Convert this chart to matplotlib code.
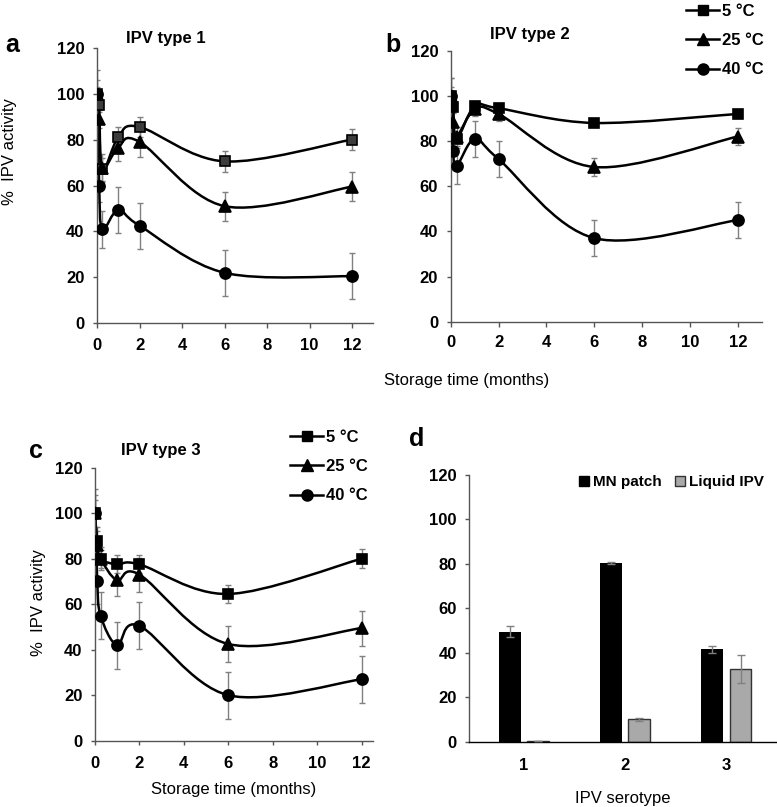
import numpy as np
import matplotlib
matplotlib.use('Agg')
import matplotlib.pyplot as plt
from matplotlib.path import Path
from matplotlib.patches import PathPatch, Patch
from matplotlib.lines import Line2D

plt.rcParams['font.family'] = ['Liberation Sans', 'DejaVu Sans']

# ---------------- data ----------------
months = [0, 0.1, 0.25, 1, 2, 6, 12]
temps = ['5 °C', '25 °C', '40 °C']

# IPV type 1
t1_5 = [100, 95, 67, 81, 85.5, 70.5, 80]
t1_5_err = [3, 3, 5, 4.5, 4.5, 4.5, 4.5]
t1_25 = [100, 89, 67.5, 76.5, 79, 51, 59.5]
t1_25_err = [6, 4, 6, 6, 6.5, 6.3, 6.3]
t1_40 = [100, 60, 41, 49.5, 42.5, 22, 20.5]
t1_40_err = [10.5, 7, 8, 10, 10, 10, 10]

# IPV type 2
t2_5 = [100, 95, 81, 95.5, 94.5, 88, 92]
t2_5_err = [4, 2, 2, 2, 1.5, 1, 1]
t2_25 = [100, 88.5, 82, 94, 92, 68.5, 82]
t2_25_err = [8, 4, 4, 3, 3, 4, 3.7]
t2_40 = [100, 75.5, 69, 81, 72, 37, 45]
t2_40_err = [8, 8, 8, 8, 8, 8, 8]

# IPV type 3
t3_5 = [100, 88, 80, 77.5, 77.5, 64.5, 80]
t3_5_err = [8, 6, 4, 4, 4, 4, 4.3]
t3_25 = [100, 86, 80, 70.5, 73, 42.5, 49.5]
t3_25_err = [10.5, 6, 5, 7, 7.5, 7.7, 7.7]
t3_40 = [100, 70, 55, 42, 50.5, 20, 27]
t3_40_err = [6, 10, 10.3, 10.3, 10.3, 10.3, 10.3]

# Panel d
serotypes = ['1', '2', '3']
mn_patch = [49.4, 80.4, 41.5]
mn_patch_err = [2.5, 0.5, 1.5]
liquid_ipv = [0.2, 10, 32.5]
liquid_ipv_err = [0, 0.7, 6.3]

# ---------------- helpers ----------------
def smooth_path(x, y):
    pts = np.column_stack([x, y]).astype(float)
    n = len(pts)
    verts = [pts[0]]
    codes = [Path.MOVETO]
    for i in range(n - 1):
        p0 = pts[i - 1] if i > 0 else pts[i]
        p1 = pts[i]
        p2 = pts[i + 1]
        p3 = pts[i + 2] if i + 2 < n else pts[i + 1]
        c1 = p1 + (p2 - p0) / 6.0
        c2 = p2 - (p3 - p1) / 6.0
        verts += [c1, c2, p2]
        codes += [Path.CURVE4] * 3
    return Path(verts, codes)

AX_COL = '#555555'
ERR_COL = '#808080'
TICK_FS = 12

def style_axis(ax, xlim, xpad, xtick_len):
    for s in ['top', 'right']:
        ax.spines[s].set_visible(False)
    for s in ['left', 'bottom']:
        ax.spines[s].set_color(AX_COL)
        ax.spines[s].set_linewidth(1.0)
    ax.set_ylim(0, 120)
    ax.set_yticks(range(0, 121, 20))
    ax.set_xlim(*xlim)
    ax.tick_params(axis='y', direction='out', length=3, width=1, color=AX_COL,
                   pad=6, labelsize=TICK_FS)
    ax.tick_params(axis='x', direction='out', length=xtick_len, width=1, color=AX_COL,
                   pad=xpad, labelsize=TICK_FS)
    for lab in ax.get_xticklabels() + ax.get_yticklabels():
        lab.set_fontweight('bold')

markers = ['s', '^', 'o']
msizes = [7, 8, 8]

def draw_lines(ax, series, errs, sq_face='black'):
    for k, (y, e) in enumerate(zip(series, errs)):
        ax.errorbar(months, y, yerr=e, fmt='none', ecolor=ERR_COL, elinewidth=1,
                    capsize=2.5, capthick=1, zorder=1)
    for k, y in enumerate(series):
        ax.add_patch(PathPatch(smooth_path(months, y), fill=False, edgecolor='black',
                               lw=1.8, zorder=2))
    for k, y in enumerate(series):
        face = sq_face if k == 0 else 'black'
        ax.plot(months, y, linestyle='none', marker=markers[k], markersize=msizes[k],
                markerfacecolor=face, markeredgecolor='black', markeredgewidth=1.2,
                zorder=3)

W, H = 777, 807
fig = plt.figure(figsize=(W / 100, H / 100), dpi=100)

def axes_px(left, right, top, bottom):
    return fig.add_axes([left / W, 1 - bottom / H, (right - left) / W, (bottom - top) / H])

# Panel a
ax_a = axes_px(97, 373.3, 47.7, 323.3)
draw_lines(ax_a, [t1_5, t1_25, t1_40], [t1_5_err, t1_25_err, t1_40_err], sq_face='#3c3c3c')
style_axis(ax_a, (0, 13), 7, 3.5)
ax_a.set_xticks(range(0, 13, 2))

# Panel b
ax_b = axes_px(450.7, 761.7, 50.7, 321.7)
draw_lines(ax_b, [t2_5, t2_25, t2_40], [t2_5_err, t2_25_err, t2_40_err])
style_axis(ax_b, (0, 13), 6, 3.5)
ax_b.set_xticks(range(0, 13, 2))

# Panel c
ax_c = axes_px(95, 372.7, 467.7, 740.7)
draw_lines(ax_c, [t3_5, t3_25, t3_40], [t3_5_err, t3_25_err, t3_40_err])
style_axis(ax_c, (0, 12.5), 8, 3)
ax_c.set_xticks(range(0, 13, 2))
ax_c.set_xlabel('Storage time (months)', fontsize=12, labelpad=8)

# Panel d
ax_d = axes_px(469.3, 777, 475, 741.7)
xpos = np.arange(1, len(serotypes) + 1)
bw = 0.215
ax_d.bar(xpos - 0.14, mn_patch, width=bw, color='black', zorder=2)
ax_d.bar(xpos + 0.14, liquid_ipv, width=bw, color='#a9a9a9', edgecolor='#333333',
         linewidth=1, zorder=2)
ax_d.errorbar(xpos - 0.14, mn_patch, yerr=mn_patch_err, fmt='none', ecolor=ERR_COL,
              elinewidth=1, capsize=3, capthick=1, zorder=3)
ax_d.errorbar(xpos + 0.14, liquid_ipv, yerr=liquid_ipv_err, fmt='none', ecolor=ERR_COL,
              elinewidth=1, capsize=3, capthick=1, zorder=3)
style_axis(ax_d, (0.46, 3.5), 12, 0)
ax_d.set_xticks(xpos)
ax_d.set_xticklabels(serotypes)
for lab in ax_d.get_xticklabels():
    lab.set_fontweight('bold')
ax_d.spines['bottom'].set_color('black')
ax_d.set_xlabel('IPV serotype', fontsize=12, labelpad=13)
fig.legend([Patch(facecolor='black', edgecolor='black'),
            Patch(facecolor='#a9a9a9', edgecolor='#333333')],
           ['MN patch', 'Liquid IPV'], loc='center right', ncol=2,
           bbox_to_anchor=(764 / W, 1 - 482 / H), bbox_transform=fig.transFigure,
           frameon=False, prop={'weight': 'bold', 'size': 11}, handlelength=0.65,
           handleheight=0.65, handletextpad=0.25, columnspacing=0.9,
           borderaxespad=0, borderpad=0)

# y labels
fig.text(10 / W, 1 - 152 / H, '%  IPV activity', rotation=90, ha='center', va='center', fontsize=12)
fig.text(38.5 / W, 1 - 603 / H, '%  IPV activity', rotation=90, ha='center', va='center', fontsize=12)

# shared x-label top row
fig.text(467 / W, 1 - 380 / H, 'Storage time (months)', ha='center', va='center', fontsize=12)

# titles
fig.text(166 / W, 1 - 38 / H, 'IPV type 1', ha='center', va='center', fontsize=12, fontweight='bold')
fig.text(530 / W, 1 - 34 / H, 'IPV type 2', ha='center', va='center', fontsize=12, fontweight='bold')
fig.text(161 / W, 1 - 451 / H, 'IPV type 3', ha='center', va='center', fontsize=12, fontweight='bold')

# panel letters
for ch, x, y in [('a', 12.5, 45), ('b', 392.5, 45), ('c', 36, 451), ('d', 417, 439)]:
    fig.text(x / W, 1 - y / H, ch, ha='center', va='center', fontsize=18, fontweight='bold')

# legends
def temp_handles():
    return [Line2D([0], [0], color='black', lw=1.8, marker=markers[k], markersize=msizes[k],
                   markerfacecolor='black', markeredgecolor='black') for k in range(3)]

fig.legend(temp_handles(), temps, loc='upper left', bbox_to_anchor=(686 / W, 1 - 4 / H),
           frameon=False, prop={'weight': 'bold', 'size': 12}, handlelength=2.0,
           handletextpad=0.15, labelspacing=0.85, borderaxespad=0, borderpad=0)
fig.legend(temp_handles(), temps, loc='upper left', bbox_to_anchor=(290 / W, 1 - 430 / H),
           frameon=False, prop={'weight': 'bold', 'size': 12}, handlelength=2.0,
           handletextpad=0.15, labelspacing=0.85, borderaxespad=0, borderpad=0)

fig.savefig('out.png', dpi=100)
